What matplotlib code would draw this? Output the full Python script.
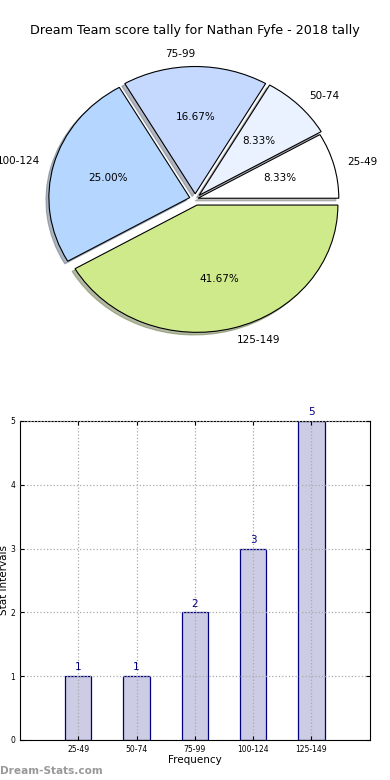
import matplotlib
matplotlib.use('agg')
import matplotlib.pyplot as plt
import numpy as np

# data
intervals = ['25-49', '50-74', '75-99', '100-124', '125-149']
counts = [1, 1, 2, 3, 5]
slice_colors = ['#ffffff', '#eaf2ff', '#c5d9ff', '#b5d6ff', '#cfea8b']
explode = [0.02, 0.04, 0.04, 0.04, 0.05]

fig = plt.figure(figsize=(3.9, 7.8), dpi=100)
fig.patch.set_facecolor('white')

# pie of score tally
ax1 = fig.add_axes([0.049, 0.541, 0.903, 0.408])
wedges, texts, autotexts = ax1.pie(
    counts, labels=intervals, colors=slice_colors, explode=explode,
    autopct='%1.2f%%', startangle=0,
    shadow={'ox': -0.015, 'oy': -0.015, 'shade': 0.5},
    wedgeprops={'edgecolor': 'black', 'linewidth': 0.8},
    textprops={'fontsize': 7.5})
ax1.set_aspect('auto')
ax1.set_xlim(-1.25, 1.25)
ax1.set_ylim(-1.25, 1.25)
fig.text(0.5, 0.961, 'Dream Team score tally for Nathan Fyfe - 2018 tally',
         ha='center', va='center', fontsize=9.2)

# bar chart of counts per interval
ax2 = fig.add_axes([0.051, 0.0513, 0.897, 0.409])
pos = np.arange(1, len(intervals) + 1)
bars = ax2.bar(pos, counts, width=0.45, color='#ccccE4',
               edgecolor='navy', linewidth=0.9, zorder=2)
for p, c in zip(pos, counts):
    ax2.text(p, c + 0.06, str(c), ha='center', va='bottom',
             color='navy', fontsize=7.5)
ax2.set_xlim(0, 6)
ax2.set_ylim(0, 5)
ax2.set_xticks(pos)
ax2.set_xticklabels(intervals, fontsize=5.5)
ax2.set_yticks(range(6))
ax2.tick_params(axis='y', labelsize=5.5)
ax2.tick_params(direction='in', top=True, right=True, length=3)
ax2.grid(True, linestyle=':', color='#aaaaaa', linewidth=0.9, zorder=0)
ax2.set_axisbelow(False)
ax2.set_xlabel('Frequency', fontsize=7.5, labelpad=1)
ax2.set_ylabel('Stat Intervals', fontsize=7.5, labelpad=1)

fig.text(0.0, 0.012, 'Dream-Stats.com', color='#999999', fontsize=7.6,
         fontweight='bold', ha='left', va='center')

plt.savefig('out.png', dpi=100)
